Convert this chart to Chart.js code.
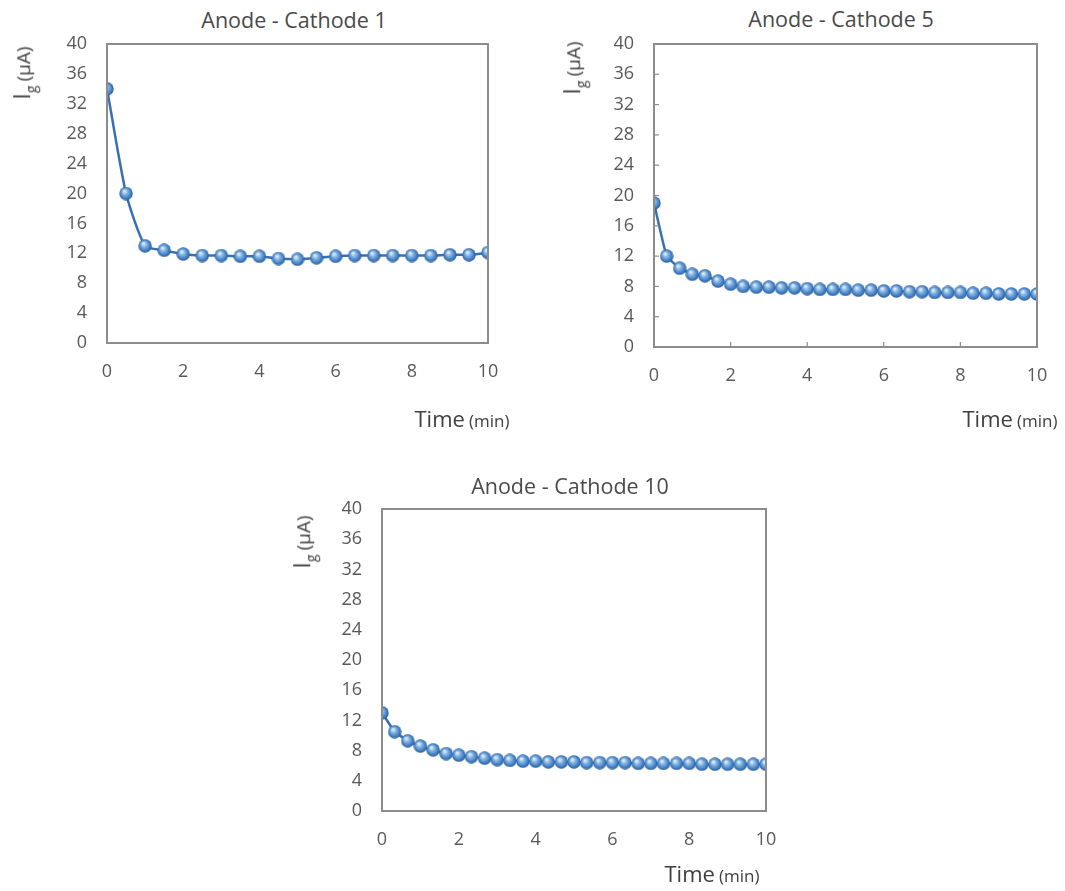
<!DOCTYPE html>
<html>
<head>
<meta charset="utf-8">
<script src="https://cdn.jsdelivr.net/npm/chart.js@4/dist/chart.umd.min.js"></script>
<style>
  body { margin: 0; background: #fff; width: 1065px; height: 891px; position: relative; overflow: hidden;
         font-family: "Open Sans", "Liberation Sans", sans-serif; color: #404040; }
  canvas { position: absolute; }
  .ttl { position: absolute; font-size: 21.5px; color: #4a4a4a; white-space: nowrap; transform: translate(-50%, -50%); }
  .ytl { position: absolute; white-space: nowrap; transform: translate(-50%, -50%) rotate(-90deg); color: #404040; line-height: 1; }
  .ytl .big { font-size: 23px; }
  .ytl sub { font-size: 14px; }
  .ytl .small { font-size: 19px; }
  .xtl { position: absolute; white-space: nowrap; transform: translate(-50%, -50%); color: #404040; }
  .xtl .big { font-size: 22px; }
  .xtl .small { font-size: 17px; }
</style>
</head>
<body>
<canvas id="c1" width="480" height="370" style="left:30px;top:34px"></canvas>
<canvas id="c2" width="480" height="370" style="left:575px;top:34px"></canvas>
<canvas id="c3" width="480" height="370" style="left:300px;top:499px"></canvas>

<div class="ttl" style="left:294px;top:19px">Anode - Cathode 1</div>
<div class="ttl" style="left:841px;top:18px">Anode - Cathode 5</div>
<div class="ttl" style="left:570px;top:485px">Anode - Cathode 10</div>

<div class="ytl" style="left:24px;top:73px"><span class="big">I<sub>g</sub></span> <span class="small">(μA)</span></div>
<div class="ytl" style="left:574px;top:68px"><span class="big">I<sub>g</sub></span> <span class="small">(μA)</span></div>
<div class="ytl" style="left:304px;top:542px"><span class="big">I<sub>g</sub></span> <span class="small">(μA)</span></div>

<div class="xtl" style="left:462px;top:418px"><span class="big">Time</span> <span class="small">(min)</span></div>
<div class="xtl" style="left:1010px;top:418px"><span class="big">Time</span> <span class="small">(min)</span></div>
<div class="xtl" style="left:712px;top:873px"><span class="big">Time</span> <span class="small">(min)</span></div>

<script>
// Anode - Cathode 1
var time1 = [0, 0.5, 1, 1.5, 2, 2.5, 3, 3.5, 4, 4.5, 5, 5.5, 6, 6.5, 7, 7.5, 8, 8.5, 9, 9.5, 10]
var ig1 = [34, 20, 13, 12.4, 11.9, 11.7, 11.7, 11.6, 11.6, 11.3, 11.2, 11.4, 11.6, 11.7, 11.7, 11.7, 11.7, 11.7, 11.8, 11.8, 12.1]

// Anode - Cathode 5
var time2 = [0, 0.33, 0.67, 1, 1.33, 1.67, 2, 2.33, 2.67, 3, 3.33, 3.67, 4, 4.33, 4.67, 5, 5.33, 5.67, 6, 6.33, 6.67, 7, 7.33, 7.67, 8, 8.33, 8.67, 9, 9.33, 9.67, 10]
var ig2 = [19, 12, 10.4, 9.6, 9.4, 8.7, 8.3, 8.0, 7.9, 7.9, 7.8, 7.8, 7.7, 7.6, 7.6, 7.6, 7.5, 7.5, 7.4, 7.4, 7.3, 7.3, 7.2, 7.2, 7.2, 7.1, 7.1, 7.0, 7.0, 7.0, 7.0]

// Anode - Cathode 10
var time3 = [0, 0.33, 0.67, 1, 1.33, 1.67, 2, 2.33, 2.67, 3, 3.33, 3.67, 4, 4.33, 4.67, 5, 5.33, 5.67, 6, 6.33, 6.67, 7, 7.33, 7.67, 8, 8.33, 8.67, 9, 9.33, 9.67, 10]
var ig3 = [13, 10.5, 9.3, 8.6, 8.1, 7.6, 7.4, 7.2, 7.0, 6.8, 6.7, 6.6, 6.6, 6.5, 6.5, 6.5, 6.4, 6.4, 6.4, 6.4, 6.3, 6.3, 6.3, 6.3, 6.3, 6.2, 6.2, 6.2, 6.2, 6.2, 6.2]

var xTicks = [0, 2, 4, 6, 8, 10]
var yTicks = [0, 4, 8, 12, 16, 20, 24, 28, 32, 36, 40]

// little shaded ball used as the marker
function makeBall(d){
  var c = document.createElement('canvas')
  c.width = d; c.height = d
  var g = c.getContext('2d')
  var r = d / 2
  var grad = g.createRadialGradient(r * 0.75, r * 0.65, 0.5, r, r, r)
  grad.addColorStop(0, '#e6f1fb')
  grad.addColorStop(0.35, '#84b4e2')
  grad.addColorStop(0.8, '#3a77bd')
  grad.addColorStop(1, '#24558f')
  g.fillStyle = grad
  g.beginPath()
  g.arc(r, r, r - 0.3, 0, Math.PI * 2)
  g.fill()
  return c
}
var ball = makeBall(14)

var framePlugin = {
  id: 'frame',
  afterDraw(chart, args, opts){
    var a = chart.chartArea
    var ctx = chart.ctx
    ctx.save()
    ctx.strokeStyle = '#8c8c8c'
    ctx.lineWidth = 2
    ctx.strokeRect(a.left, a.top, a.right - a.left, a.bottom - a.top)
    if(opts.innerTicks){
      ctx.lineWidth = 1.2
      var xs = chart.scales.x, ys = chart.scales.y
      xTicks.forEach(function(v){
        var px = xs.getPixelForValue(v)
        ctx.beginPath(); ctx.moveTo(px, a.bottom); ctx.lineTo(px, a.bottom - 5); ctx.stroke()
      })
      yTicks.forEach(function(v){
        var py = ys.getPixelForValue(v)
        ctx.beginPath(); ctx.moveTo(a.left, py); ctx.lineTo(a.left + 5, py); ctx.stroke()
      })
    }
    ctx.restore()
  }
}

function noPad(s){
  s.paddingTop = 0; s.paddingBottom = 0; s.paddingLeft = 0; s.paddingRight = 0
}

function plot(id, times, values, box, innerTicks, tension){
  var pts = times.map(function(t, i){ return {x: t, y: values[i]} })
  return new Chart(document.getElementById(id), {
    type: 'line',
    data: {
      datasets: [{
        data: pts,
        borderColor: '#3a70b2',
        borderWidth: 2.5,
        pointStyle: ball,
        pointRadius: 7,
        tension: tension,
        fill: false
      }]
    },
    options: {
      responsive: false,
      animation: false,
      layout: { padding: { top: 10, right: box.right, left: 0, bottom: 0 } },
      plugins: {
        legend: { display: false },
        tooltip: { enabled: false },
        frame: { innerTicks: innerTicks }
      },
      scales: {
        x: {
          type: 'linear', min: 0, max: 10,
          afterBuildTicks: function(s){ s.ticks = xTicks.map(function(v){ return {value: v} }) },
          afterFit: function(s){ s.height = box.bottom; noPad(s) },
          grid: { display: false, drawTicks: false },
          border: { display: false },
          ticks: { padding: 18, color: '#595959', font: { family: 'Open Sans', size: 18 } }
        },
        y: {
          min: 0, max: 40,
          afterBuildTicks: function(s){ s.ticks = yTicks.map(function(v){ return {value: v} }) },
          afterFit: function(s){ s.width = box.left; noPad(s) },
          grid: { display: false, drawTicks: false },
          border: { display: false },
          ticks: { padding: 20, color: '#595959', font: { family: 'Open Sans', size: 18 } }
        }
      }
    },
    plugins: [framePlugin]
  })
}

plot('c1', time1, ig1, {left: 77, right: 22, bottom: 61}, false, 0.2)
plot('c2', time2, ig2, {left: 79, right: 18, bottom: 57}, true, 0.1)
plot('c3', time3, ig3, {left: 82, right: 14, bottom: 58}, false, 0.1)
</script>
</body>
</html>
